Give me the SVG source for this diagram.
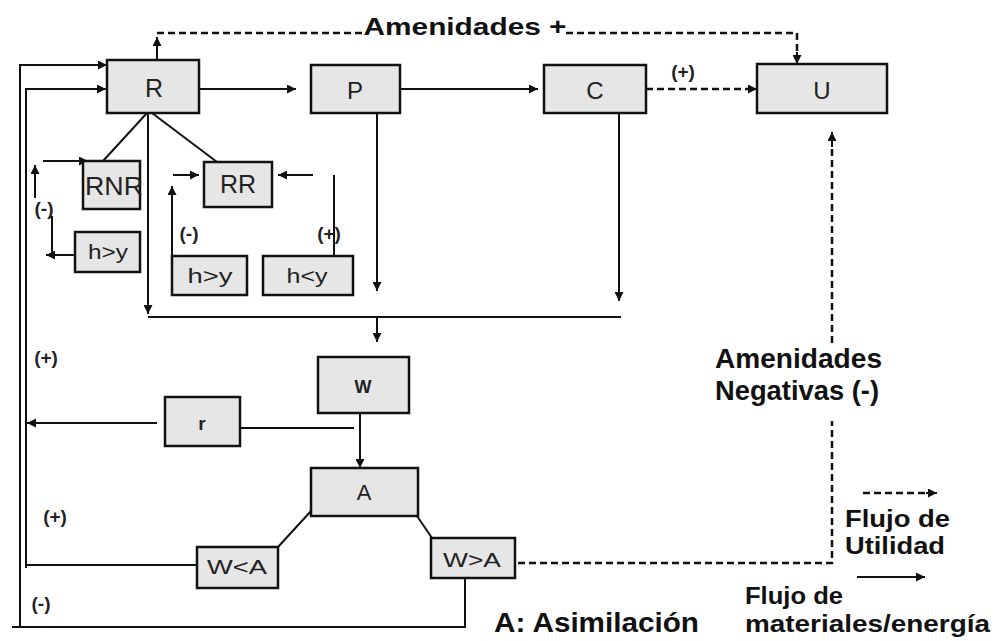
<svg xmlns="http://www.w3.org/2000/svg" width="1000" height="641" viewBox="0 0 1000 641">
<style>
.box{fill:#e6e6e6;stroke:#111;stroke-width:2.5}
.lbl{font-family:"Liberation Sans",Arial,sans-serif;fill:#222;text-anchor:middle}
.ln{fill:none;stroke:#111;stroke-width:2}
.dash{fill:none;stroke:#111;stroke-width:2.5;stroke-dasharray:7 4}
.big{font-family:"Liberation Sans",Arial,sans-serif;font-weight:bold;font-size:28px;fill:#111}
.leg{font-family:"Liberation Sans",Arial,sans-serif;font-weight:bold;font-size:24px;fill:#111}
.sgn{font-family:"Liberation Sans",Arial,sans-serif;font-weight:bold;font-size:19px;fill:#222;text-anchor:middle}
</style>
<defs>
<marker id="ah" viewBox="0 0 10 10" refX="10" refY="5" markerWidth="11" markerHeight="9" markerUnits="userSpaceOnUse" orient="auto"><path d="M0,0 L10,5 L0,10 z" fill="#111"/></marker>
</defs>
<rect width="1000" height="641" fill="#fff"/>
<g id="connectors">
<line class="ln" x1="157" y1="60" x2="157" y2="37" marker-end="url(#ah)"/>
<polyline class="dash" points="157,33 362,33"/>
<polyline class="dash" points="566,33 797,33 797,52"/>
<line class="ln" x1="797" y1="52" x2="797" y2="64" marker-end="url(#ah)"/>
<polyline class="ln" points="20,627 20,65 107,65" marker-end="url(#ah)"/>
<polyline class="ln" points="26,568 26,89 106,89" marker-end="url(#ah)"/>
<line class="ln" x1="199" y1="89" x2="296" y2="89" marker-end="url(#ah)"/>
<line class="ln" x1="400" y1="89" x2="538" y2="89" marker-end="url(#ah)"/>
<line class="dash" x1="646" y1="89" x2="748" y2="89"/>
<line class="ln" x1="746" y1="89" x2="757" y2="89" marker-end="url(#ah)"/>
<line class="ln" x1="147" y1="113" x2="103" y2="161"/>
<line class="ln" x1="152" y1="113" x2="217" y2="162"/>
<line class="ln" x1="148" y1="113" x2="148" y2="314" marker-end="url(#ah)"/>
<line class="ln" x1="148" y1="317" x2="621" y2="317"/>
<line class="ln" x1="377" y1="113" x2="377" y2="291" marker-end="url(#ah)"/>
<line class="ln" x1="619" y1="113" x2="619" y2="301" marker-end="url(#ah)"/>
<line class="ln" x1="377" y1="318" x2="377" y2="342" marker-end="url(#ah)"/>
<line class="ln" x1="43" y1="161" x2="88" y2="161" marker-end="url(#ah)"/>
<line class="ln" x1="35" y1="198" x2="35" y2="165" marker-end="url(#ah)"/>
<polyline class="ln" points="52,216 52,255"/>
<line class="ln" x1="75" y1="255" x2="46" y2="255" marker-end="url(#ah)"/>
<line class="ln" x1="172" y1="256" x2="172" y2="186" marker-end="url(#ah)"/>
<line class="ln" x1="173" y1="175" x2="199" y2="175" marker-end="url(#ah)"/>
<line class="ln" x1="313" y1="175" x2="278" y2="175" marker-end="url(#ah)"/>
<line class="ln" x1="334" y1="175" x2="334" y2="256"/>
<line class="ln" x1="360" y1="413" x2="360" y2="468" marker-end="url(#ah)"/>
<line class="ln" x1="354" y1="428" x2="240" y2="428"/>
<line class="ln" x1="157" y1="423" x2="27" y2="423" marker-end="url(#ah)"/>
<line class="ln" x1="311" y1="511" x2="278" y2="547"/>
<line class="ln" x1="417" y1="516" x2="432" y2="538"/>
<line class="ln" x1="197" y1="565" x2="26" y2="565"/>
<polyline class="ln" points="465,578 465,627 12,627"/>
<polyline class="dash" points="518,563 832,563 832,421"/>
<line class="dash" x1="832" y1="343" x2="832" y2="145"/>
<line class="ln" x1="832" y1="147" x2="832" y2="132" marker-end="url(#ah)"/>
<line class="dash" x1="863" y1="493" x2="928" y2="493" stroke-width="2"/>
<line class="ln" x1="926" y1="493" x2="937" y2="493" marker-end="url(#ah)"/>
<line class="ln" x1="857" y1="577" x2="925" y2="577" marker-end="url(#ah)"/>
</g>
<g id="node-R"><rect class="box" x="107" y="60" width="92" height="53"/><text class="lbl" x="154" y="97" font-size="25">R</text></g>
<g id="node-P"><rect class="box" x="311" y="65" width="89" height="48"/><text class="lbl" x="355" y="99" font-size="24">P</text></g>
<g id="node-C"><rect class="box" x="544" y="65" width="102" height="48"/><text class="lbl" x="595" y="99" font-size="24">C</text></g>
<g id="node-U"><rect class="box" x="757" y="64" width="130" height="49"/><text class="lbl" x="822" y="99" font-size="24">U</text></g>
<g id="node-RNR"><rect class="box" x="83" y="161" width="57" height="48"/><text class="lbl" x="85" y="195" font-size="26" style="text-anchor:start" textLength="58" lengthAdjust="spacingAndGlyphs">RNR</text></g>
<g id="node-RR"><rect class="box" x="204" y="162" width="68" height="45"/><text class="lbl" x="238" y="193" font-size="25">RR</text></g>
<g id="node-hy1"><rect class="box" x="75" y="232" width="65" height="40"/><text class="lbl" x="108" y="259" font-size="21" textLength="40" lengthAdjust="spacingAndGlyphs">h&gt;y</text></g>
<g id="node-hy2"><rect class="box" x="172" y="256" width="75" height="39"/><text class="lbl" x="210" y="283" font-size="21" textLength="45" lengthAdjust="spacingAndGlyphs">h&gt;y</text></g>
<g id="node-hly"><rect class="box" x="263" y="256" width="90" height="39"/><text class="lbl" x="307" y="283" font-size="21" textLength="41" lengthAdjust="spacingAndGlyphs">h&lt;y</text></g>
<g id="node-W"><rect class="box" x="318" y="357" width="91" height="56"/><text class="lbl" x="363" y="393" font-size="18" font-weight="bold">W</text></g>
<g id="node-r"><rect class="box" x="165" y="397" width="75" height="49"/><text class="lbl" x="202" y="430" font-size="19" font-weight="bold">r</text></g>
<g id="node-A"><rect class="box" x="311" y="468" width="107" height="48"/><text class="lbl" x="364" y="500" font-size="22">A</text></g>
<g id="node-WltA"><rect class="box" x="197" y="547" width="81" height="41"/><text class="lbl" x="237" y="574" font-size="20" textLength="60" lengthAdjust="spacingAndGlyphs">W&lt;A</text></g>
<g id="node-WgtA"><rect class="box" x="431" y="538" width="84" height="40"/><text class="lbl" x="472" y="567" font-size="20" textLength="58" lengthAdjust="spacingAndGlyphs">W&gt;A</text></g>
<g id="labels">
<text class="lbl" x="465" y="35" font-size="23" style="fill:#111;font-weight:bold" textLength="203" lengthAdjust="spacingAndGlyphs">Amenidades +</text>
<text class="sgn" x="683" y="78">(+)</text>
<text class="sgn" x="44" y="215" font-size="17">(-)</text>
<text class="sgn" x="189" y="240">(-)</text>
<text class="sgn" x="329" y="240">(+)</text>
<text class="sgn" x="46" y="364">(+)</text>
<text class="sgn" x="55" y="523">(+)</text>
<text class="sgn" x="41" y="610">(-)</text>
<text class="big" x="715" y="368" textLength="167" lengthAdjust="spacingAndGlyphs">Amenidades</text>
<text class="big" x="715" y="400" textLength="164" lengthAdjust="spacingAndGlyphs">Negativas (-)</text>
<text class="leg" x="845" y="527" textLength="105" lengthAdjust="spacingAndGlyphs">Flujo de</text>
<text class="leg" x="845" y="554" textLength="100" lengthAdjust="spacingAndGlyphs">Utilidad</text>
<text class="leg" x="745" y="604" textLength="98" lengthAdjust="spacingAndGlyphs">Flujo de</text>
<text class="leg" x="745" y="632" textLength="245" lengthAdjust="spacingAndGlyphs">materiales/energía</text>
<text class="big" x="494" y="632" textLength="205" lengthAdjust="spacingAndGlyphs">A: Asimilación</text>
</g>
</svg>
